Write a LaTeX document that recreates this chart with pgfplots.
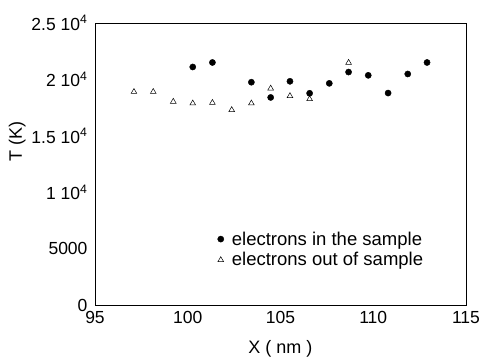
\documentclass[border=0pt]{standalone}
\usepackage{pgfplots}
\pgfplotsset{compat=1.18}
\usepackage{fontspec}
\setmainfont{Liberation Sans}
\begin{document}
\begin{tikzpicture}
\begin{axis}[
  scale only axis,
  width=371pt, height=282pt,
  xmin=95, xmax=115, ymin=0, ymax=25000,
  scaled y ticks=false,
  xtick={95,100,105,110,115},
  ytick={0,5000,10000,15000,20000,25000},
  yticklabels={0,5000,1 10\textsuperscript{4},1.5 10\textsuperscript{4},2 10\textsuperscript{4},2.5 10\textsuperscript{4}},
  xticklabels={95,100,105,110,115},
  major tick length=0pt,
  tick label style={font=\fontsize{17.5}{20}\selectfont},
  xticklabel style={yshift=-3pt},
  yticklabel style={xshift=-4pt},
  xlabel={X ( nm )}, ylabel={T (K)},
  label style={font=\fontsize{18}{20}\selectfont},
  xlabel style={yshift=-10pt},
  ylabel style={at={(ticklabel cs:0.58)}, yshift=-1pt},
  axis line style={line width=0.6pt},
  legend style={draw=none, fill=none, font=\fontsize{18.5}{21}\selectfont,
    at={(rel axis cs:0.322,0.275)}, anchor=north west, row sep=2pt,
    /tikz/every odd column/.append style={column sep=6pt}},
  legend cell align=left,
]
\addplot[only marks, mark=*, mark size=3.1pt, black] coordinates {
(100.27,21100) (101.33,21500) (103.43,19750) (104.47,18400) (105.51,19830)
(106.57,18770) (107.63,19650) (108.67,20650) (109.73,20360) (110.8,18790)
(111.86,20480) (112.9,21500)
};
\addlegendentry{electrons in the sample}
\addplot[only marks, mark=triangle, mark size=3.3pt, black, mark options={line width=0.5pt}] coordinates {
(97.10,18900) (98.14,18900) (99.22,18030) (100.27,17880) (101.33,17930)
(102.37,17290) (103.43,17880) (104.47,19200) (105.51,18530) (106.57,18260)
(108.67,21480)
};
\addlegendentry{electrons out of sample}
\coordinate (ll) at (rel axis cs:0,0);
\coordinate (ur) at (rel axis cs:1,1);
\end{axis}
\pgfresetboundingbox
\path[use as bounding box] ([shift={(-95pt,-53pt)}]ll) rectangle ([shift={(19pt,23pt)}]ur);
\end{tikzpicture}
\end{document}
